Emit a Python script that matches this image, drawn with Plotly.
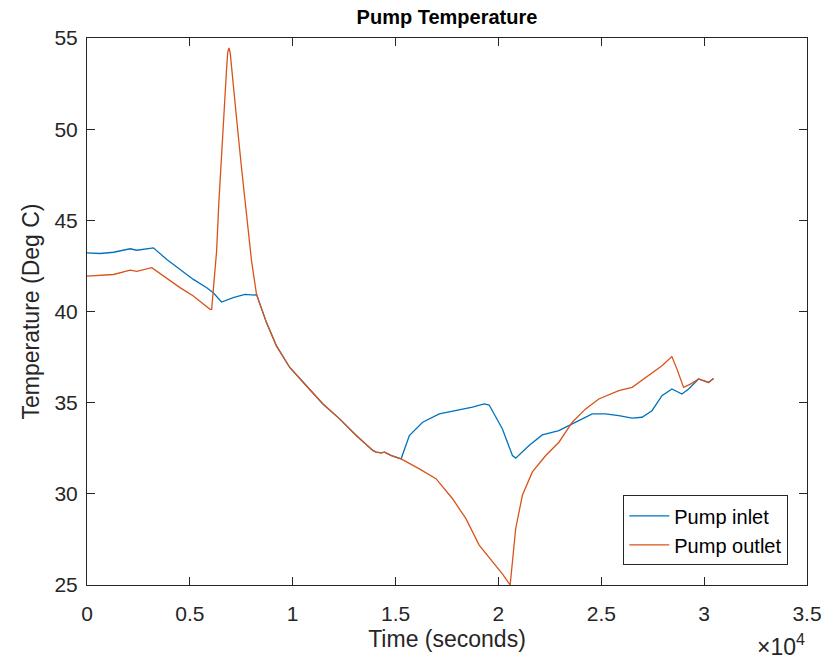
import plotly.graph_objects as go

# ---- data ----
inlet_t = [0, 645, 1290, 2100, 2420, 2910, 3230, 3880, 4520, 5170, 5820, 6140, 6540,
           7110, 7675, 8160, 8240, 8725, 9210, 9855, 10664, 11470, 12280, 13088, 13893,
           14057, 14300, 14460, 14800, 15270, 15670, 16316, 17125, 17935, 18740, 19307,
           19550, 20194, 20680, 20840, 21490, 22130, 22940, 23590, 24560, 25200, 25850,
           26500, 26980, 27465, 27950, 28434, 28920, 29245, 29730, 30215, 30455]
inlet_v = [43.22, 43.18, 43.25, 43.44, 43.36, 43.44, 43.49, 42.85, 42.30, 41.76, 41.30,
           41.03, 40.52, 40.76, 40.94, 40.90, 40.94, 39.39, 38.11, 36.93, 35.93, 34.93,
           34.11, 33.20, 32.38, 32.29, 32.25, 32.29, 32.10, 31.92, 33.20, 33.93, 34.38,
           34.56, 34.75, 34.93, 34.87, 33.56, 32.10, 31.96, 32.65, 33.23, 33.47, 33.84,
           34.38, 34.38, 34.29, 34.15, 34.20, 34.56, 35.38, 35.75, 35.47, 35.75, 36.30,
           36.11, 36.33]

outlet_t = [0, 645, 1290, 2100, 2420, 3150, 3715, 4520, 5170, 5980, 6060, 6170, 6300,
            6413, 6544, 6670, 6786, 6840, 6898, 6960, 7030, 7270, 7513, 7756, 8000, 8240,
            8725, 9210, 9855, 10664, 11470, 12280, 13088, 13893, 14057, 14300, 14460,
            14800, 15270, 16156, 16965, 17770, 18420, 19065, 19710, 20200, 20570, 20840,
            21165, 21650, 22300, 22940, 23590, 24240, 24880, 25850, 26500, 27300, 27950,
            28430, 28680, 29000, 29330, 29730, 30215, 30455]
outlet_v = [41.94, 41.97, 42.03, 42.27, 42.20, 42.40, 41.94, 41.31, 40.85, 40.12, 40.12,
            41.49, 43.31, 46.04, 48.77, 51.50, 53.33, 54.20, 54.45, 54.20, 53.33, 50.60,
            47.86, 45.13, 42.76, 40.94, 39.39, 38.11, 36.93, 35.93, 34.93, 34.11, 33.20,
            32.38, 32.29, 32.25, 32.29, 32.10, 31.92, 31.37, 30.83, 29.73, 28.64, 27.19,
            26.28, 25.60, 25.00, 28.10, 29.92, 31.20, 32.10, 32.83, 33.93, 34.66, 35.20,
            35.66, 35.84, 36.48, 37.02, 37.53, 36.84, 35.84, 36.02, 36.30, 36.11, 36.33]

x_tickvals = [0, 5000, 10000, 15000, 20000, 25000, 30000, 35000]
x_ticktext = ["0", "0.5", "1", "1.5", "2", "2.5", "3", "3.5"]
y_tickvals = [25, 30, 35, 40, 45, 50, 55]

FONT = "Liberation Sans, Arial, sans-serif"
AX = "#262626"

fig = go.Figure()
fig.add_trace(go.Scatter(x=inlet_t, y=inlet_v, mode="lines", name="Pump inlet",
                         line=dict(color="#0072BD", width=1.3)))
fig.add_trace(go.Scatter(x=outlet_t, y=outlet_v, mode="lines", name="Pump outlet",
                         line=dict(color="#D95319", width=1.3)))

axis_common = dict(showline=True, linecolor=AX, linewidth=1, mirror="ticks",
                   ticks="inside", ticklen=8, tickcolor=AX, tickwidth=1,
                   showgrid=False, zeroline=False,
                   tickfont=dict(family=FONT, size=21, color=AX))

fig.update_layout(
    width=834, height=659,
    margin=dict(l=87, r=25, t=38, b=72),
    plot_bgcolor="white", paper_bgcolor="white",
    title=dict(text="<b>Pump Temperature</b>", x=0.5, xref="paper",
               y=1 - 17 / 659, yref="container", yanchor="middle", xanchor="center",
               font=dict(family=FONT, size=20, color="black")),
    xaxis=dict(range=[0, 35000], tickvals=x_tickvals, ticktext=x_ticktext,
               ticklabelstandoff=10,
               title=dict(text="Time (seconds)", standoff=6,
                          font=dict(family=FONT, size=23, color=AX)),
               **axis_common),
    yaxis=dict(range=[25, 55], tickvals=y_tickvals, ticklabelstandoff=4,
               title=dict(text="Temperature (Deg C)", standoff=8,
                          font=dict(family=FONT, size=23, color=AX)),
               **axis_common),
    legend=dict(x=0.974, y=0.036, xanchor="right", yanchor="bottom",
                bgcolor="white", bordercolor=AX, borderwidth=1,
                font=dict(family=FONT, size=20, color="black"),
                itemwidth=40, tracegroupgap=0),
    showlegend=True,
)

fig.add_annotation(text="\u00d710<sup>4</sup>", xref="paper", yref="paper",
                   x=1.0, y=-0.11, xanchor="right", yanchor="middle", showarrow=False,
                   font=dict(family=FONT, size=23, color=AX))

fig.write_html("out.html")
